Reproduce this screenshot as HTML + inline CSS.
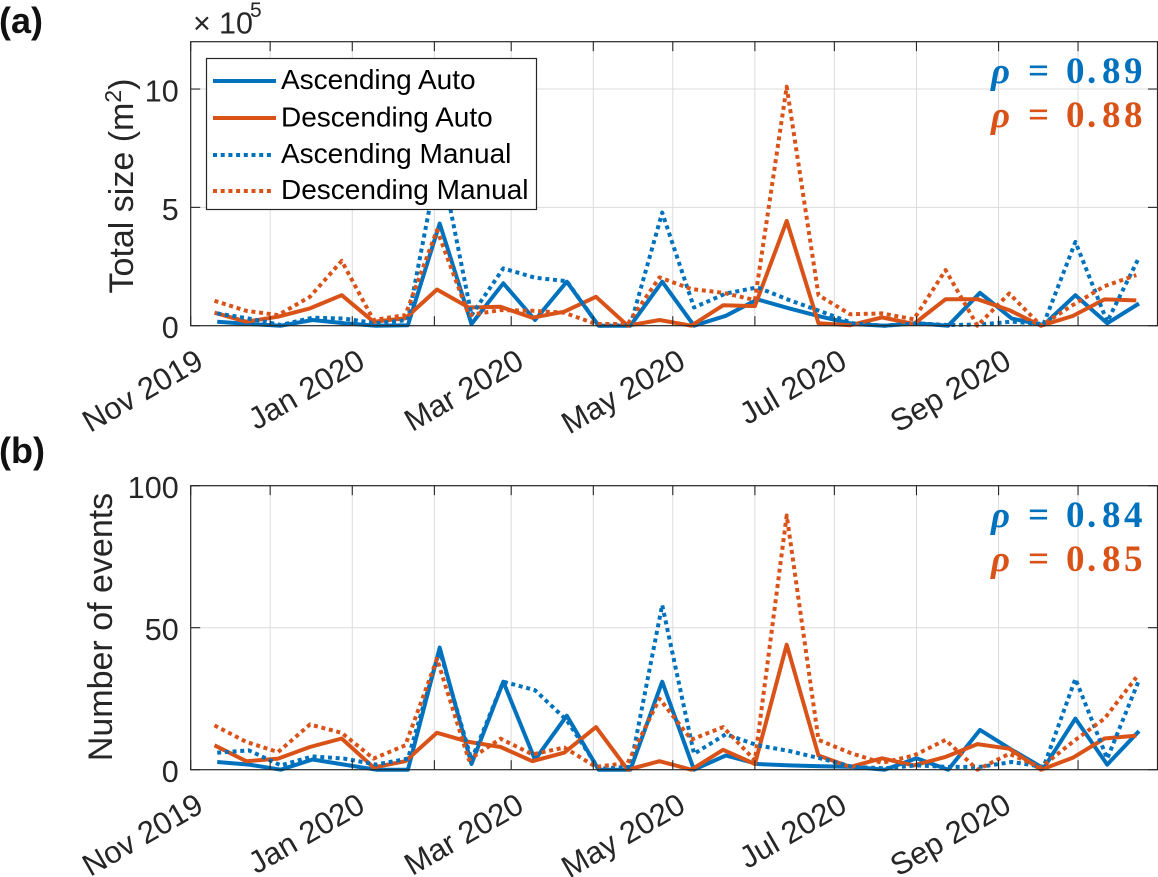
<!DOCTYPE html>
<html>
<head>
<meta charset="utf-8">
<style>
html,body{margin:0;padding:0;background:#fff;width:1158px;height:877px;overflow:hidden}
svg{display:block;font-family:"Liberation Sans",Arial,sans-serif}
</style>
</head>
<body>
<svg id="fig" xmlns="http://www.w3.org/2000/svg" width="1158" height="877" viewBox="0 0 1158 877"></svg>
<script>
const xTickDates = ['2019-11-01','2019-12-01','2020-01-01','2020-02-01','2020-03-01','2020-04-01','2020-05-01','2020-06-01','2020-07-01','2020-08-01','2020-09-01','2020-10-01'];
const xTickLabels = ['Nov 2019','','Jan 2020','','Mar 2020','','May 2020','','Jul 2020','','Sep 2020',''];
const ascDates = ['2019-11-11','2019-11-23','2019-12-05','2019-12-17','2019-12-29','2020-01-10','2020-01-22','2020-02-03','2020-02-15','2020-02-27','2020-03-10','2020-03-22','2020-04-03','2020-04-15','2020-04-27','2020-05-09','2020-05-21','2020-06-02','2020-06-14','2020-06-26','2020-07-08','2020-07-20','2020-08-01','2020-08-13','2020-08-25','2020-09-06','2020-09-18','2020-09-30','2020-10-12','2020-10-24'];
const descDates = ['2019-11-10','2019-11-22','2019-12-04','2019-12-16','2019-12-28','2020-01-09','2020-01-21','2020-02-02','2020-02-14','2020-02-26','2020-03-09','2020-03-21','2020-04-02','2020-04-14','2020-04-26','2020-05-08','2020-05-20','2020-06-01','2020-06-13','2020-06-25','2020-07-07','2020-07-19','2020-07-31','2020-08-12','2020-08-24','2020-09-05','2020-09-17','2020-09-29','2020-10-11','2020-10-23'];

const sizeAscAuto = [0.17,0.07,0,0.24,0.1,0,0.02,4.32,0.07,1.79,0.24,1.86,0,0,1.86,0,0.42,1.11,0.73,0.38,0.07,0,0.1,0,1.39,0.3,0.03,1.29,0.1,0.94];
const sizeDescAuto = [0.55,0.17,0.38,0.73,1.29,0.17,0.31,1.53,0.77,0.8,0.34,0.59,1.22,0,0.24,0,0.86,0.83,4.43,0.1,0.02,0.35,0.07,1.12,1.12,0.66,0,0.41,1.11,1.07];
const sizeAscManual = [0.52,0.3,0.03,0.34,0.3,0.1,0.24,7.2,0.45,2.42,2.03,1.88,0,0.02,4.78,0.77,1.36,1.62,1.08,0.6,0.1,0,0.1,0.03,0.05,0.17,0.07,3.54,0.17,2.88];
const sizeDescManual = [1.05,0.63,0.45,1.22,2.74,0.24,0.45,4.04,0.45,0.66,0.63,0.55,0.07,0.07,2.04,1.55,1.39,1.08,10.1,1.29,0.48,0.52,0.27,2.35,0,1.36,0,0.87,1.67,2.14];

const countAscAuto = [2.7,1.8,0,3.6,1.8,0,0,43,2,31,3.5,19,0,0,31,0,5,2,1.5,1.2,1,0,4,0,14,7,0.5,18,1.8,13.6];
const countDescAuto = [8.6,3,3.9,8,11,0.8,3,13,9.8,8,3,6,15,0,3,0,7,2,44,5,1,4,1.5,4.5,9,7.4,0,4.2,11,12];
const countAscManual = [6,6.8,1.5,4.7,3.9,1.8,3.9,42,3.5,31,28,17.4,0.4,1,58,5.6,12.5,8.6,6.6,3.9,1,0.5,1.5,1,1,2.7,1,32,3.9,31.5];
const countDescManual = [15.6,9.8,6.2,15.9,13,3.9,8.6,39,3.5,10.9,5.4,7.8,1,2.4,25,10.6,15,3.3,89.5,10.5,5.9,2.4,5,10.5,0,5.6,0.8,9.8,18,32.5];

const sizeYTicks = [0,5,10];
const countYTicks = [0,50,100];

const NS = 'http://www.w3.org/2000/svg';
const fig = document.getElementById('fig');
const BLUE = '#0072BD', ORANGE = '#D95319', INK = '#262626';
const X0 = 190.7, X1 = 1157.5;
const T0 = Date.UTC(2019,10,1), T1 = Date.UTC(2020,9,31);
function xScale(s){
  const p = s.split('-');
  return X0 + (Date.UTC(+p[0],+p[1]-1,+p[2]) - T0) / (T1 - T0) * (X1 - X0);
}
function make(tag, attrs, parent){
  const el = document.createElementNS(NS, tag);
  for (const k in attrs) el.setAttribute(k, attrs[k]);
  parent.appendChild(el);
  return el;
}

function drawPanel(cfg){
  const g = make('g', {}, fig);
  
  
  const yScale = v => cfg.yBottom - (v - 0) / cfg.yMax * (cfg.yBottom - cfg.yTop);

  // grid
  xTickDates.slice(1).forEach(d => {
    const line = make('line', {x1:xScale(d), x2:xScale(d), y1:cfg.yTop, y2:cfg.yBottom, stroke:'#dcdcdc', 'stroke-width':1}, g);
    
    
  });
  cfg.yTicks.forEach(v => {
    if (v === 0) return;
    const line = make('line', {x1:X0, x2:X1, y1:yScale(v), y2:yScale(v), stroke:'#dcdcdc', 'stroke-width':1}, g);
    
    
  });

  // series
  cfg.series.forEach(s => {
    const dates = s.dates;
    const pts = s.values.map((v,i) => xScale(dates[i]).toFixed(1) + ',' + yScale(v).toFixed(1)).join(' ');
    const attrs = {points:pts, fill:'none', stroke:s.color, 'stroke-width':4, 'stroke-linejoin':'round'};
    if (s.dotted) attrs['stroke-dasharray'] = '4 3.7';
    const line = make('polyline', attrs, g);
    
    
  });

  // box
  const box = make('rect', {x:X0, y:cfg.yTop, width:X1 - X0, height:cfg.yBottom - cfg.yTop, fill:'none', stroke:INK, 'stroke-width':1.2}, g);
  
  

  // x ticks
  xTickDates.forEach((d,i) => {
    const x = xScale(d);
    const bt = make('line', {x1:x, x2:x, y1:cfg.yBottom, y2:cfg.yBottom - 9.5, stroke:INK, 'stroke-width':1.1}, g);
    
    
    const tt = make('line', {x1:x, x2:x, y1:cfg.yTop, y2:cfg.yTop + 9.5, stroke:INK, 'stroke-width':1.1}, g);
    
    
    if (xTickLabels[i]) {
      const lx = x + 14.5, ly = cfg.yBottom + 41;
      const t = make('text', {x:lx, y:ly, 'font-size':31, fill:INK, 'text-anchor':'end', transform:'rotate(-30 ' + lx + ' ' + ly + ')'}, g);
      t.textContent = xTickLabels[i];
      
      
    }
  });

  // y ticks
  cfg.yTicks.forEach(v => {
    const y = yScale(v);
    const lt = make('line', {x1:X0, x2:X0 + 9.5, y1:y, y2:y, stroke:INK, 'stroke-width':1.1}, g);
    
    
    const rt = make('line', {x1:X1, x2:X1 - 9.5, y1:y, y2:y, stroke:INK, 'stroke-width':1.1}, g);
    
    
    const t = make('text', {x:X0 - 12, y:y + 12.5, 'font-size':30.5, fill:INK, 'text-anchor':'end'}, g);
    t.textContent = String(v);
    
    
  });
}

drawPanel({
  name:'panel-a-total-size', yTop:41.7, yBottom:325.7, yMax:12, yTicks:sizeYTicks,
  series:[
    {name:'size-ascending-auto-line', dates:ascDates, values:sizeAscAuto, color:BLUE, dotted:false},
    {name:'size-descending-auto-line', dates:descDates, values:sizeDescAuto, color:ORANGE, dotted:false},
    {name:'size-ascending-manual-line', dates:ascDates, values:sizeAscManual, color:BLUE, dotted:true},
    {name:'size-descending-manual-line', dates:descDates, values:sizeDescManual, color:ORANGE, dotted:true}
  ]
});
drawPanel({
  name:'panel-b-number-of-events', yTop:485.7, yBottom:769.7, yMax:100, yTicks:countYTicks,
  series:[
    {name:'count-ascending-auto-line', dates:ascDates, values:countAscAuto, color:BLUE, dotted:false},
    {name:'count-descending-auto-line', dates:descDates, values:countDescAuto, color:ORANGE, dotted:false},
    {name:'count-ascending-manual-line', dates:ascDates, values:countAscManual, color:BLUE, dotted:true},
    {name:'count-descending-manual-line', dates:descDates, values:countDescManual, color:ORANGE, dotted:true}
  ]
});

// static annotations and legend
fig.insertAdjacentHTML('beforeend', `
<text x="-1" y="33" font-size="36" font-weight="bold" fill="#111">(a)</text>
<text x="-1" y="463" font-size="36" font-weight="bold" fill="#111">(b)</text>
<text y="33.5" font-size="30.5" fill="${INK}"><tspan x="193">×</tspan><tspan x="219">10</tspan><tspan x="250" y="17" font-size="21">5</tspan></text>
<text transform="translate(133 186) rotate(-90)" text-anchor="middle" font-size="34" fill="${INK}">Total size (m<tspan font-size="23" dy="-12">2</tspan><tspan dy="12">)</tspan></text>
<text transform="translate(112 627) rotate(-90)" text-anchor="middle" font-size="34" fill="${INK}">Number of events</text>
<g>
  <rect x="206.5" y="58.5" width="330" height="151" fill="#fff" stroke="${INK}" stroke-width="1.2"/>
  <g>
    <line x1="213" x2="276" y1="81" y2="81" stroke="${BLUE}" stroke-width="4"/>
    <text x="281" y="89" font-size="28" fill="#000">Ascending Auto</text>
  </g>
  <g>
    <line x1="213" x2="276" y1="118" y2="118" stroke="${ORANGE}" stroke-width="4"/>
    <text x="281" y="126.5" font-size="28" fill="#000">Descending Auto</text>
  </g>
  <g>
    <line x1="213" x2="274" y1="155" y2="155" stroke="${BLUE}" stroke-width="4" stroke-dasharray="4 3.7"/>
    <text x="281" y="163" font-size="28" fill="#000">Ascending Manual</text>
  </g>
  <g>
    <line x1="213" x2="274" y1="191" y2="191" stroke="${ORANGE}" stroke-width="4" stroke-dasharray="4 3.7"/>
    <text x="281" y="199" font-size="28" fill="#000">Descending Manual</text>
  </g>
</g>
<g font-family="'Liberation Serif',serif" font-size="37" font-weight="bold">
  <text y="83" fill="${BLUE}"><tspan x="991" font-style="italic">ρ</tspan><tspan x="1028">=</tspan><tspan x="1066">0</tspan><tspan x="1087">.</tspan><tspan x="1102">8</tspan><tspan x="1124">9</tspan></text>
  <text y="127" fill="${ORANGE}"><tspan x="991" font-style="italic">ρ</tspan><tspan x="1028">=</tspan><tspan x="1066">0</tspan><tspan x="1087">.</tspan><tspan x="1102">8</tspan><tspan x="1124">8</tspan></text>
  <text y="527" fill="${BLUE}"><tspan x="991" font-style="italic">ρ</tspan><tspan x="1028">=</tspan><tspan x="1066">0</tspan><tspan x="1087">.</tspan><tspan x="1102">8</tspan><tspan x="1124">4</tspan></text>
  <text y="571" fill="${ORANGE}"><tspan x="991" font-style="italic">ρ</tspan><tspan x="1028">=</tspan><tspan x="1066">0</tspan><tspan x="1087">.</tspan><tspan x="1102">8</tspan><tspan x="1124">5</tspan></text>
</g>`);
</script>
</body>
</html>
